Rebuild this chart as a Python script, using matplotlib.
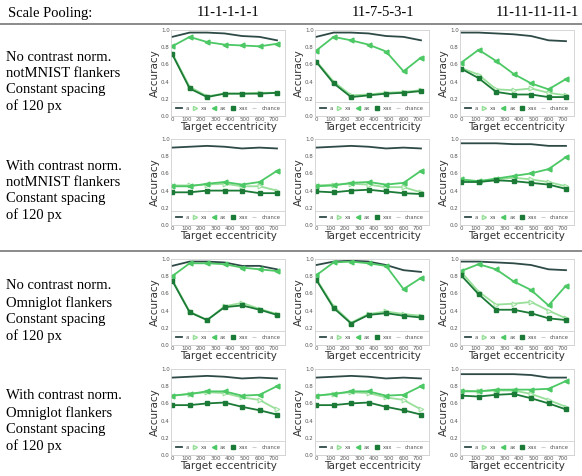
import numpy as np
import matplotlib
matplotlib.use('Agg')
import matplotlib.pyplot as plt
from matplotlib.lines import Line2D

W, H = 582, 476

ecc = [0, 120, 240, 360, 480, 600, 720]
chance = 0.1

col_labels = ['11-1-1-1-1', '11-7-5-3-1', '11-11-11-11-1']
row_labels = ['No contrast norm.\nnotMNIST flankers\nConstant spacing\nof 120 px',
              'With contrast norm.\nnotMNIST flankers\nConstant spacing\nof 120 px',
              'No contrast norm.\nOmniglot flankers\nConstant spacing\nof 120 px',
              'With contrast norm.\nOmniglot flankers\nConstant spacing\nof 120 px']

# one entry per panel, row by row
acc_a = [
    [0.92, 0.97, 0.97, 0.96, 0.93, 0.92, 0.88],
    [0.92, 0.97, 0.97, 0.96, 0.93, 0.92, 0.88],
    [0.97, 0.97, 0.96, 0.95, 0.93, 0.88, 0.87],
    [0.90, 0.91, 0.92, 0.91, 0.89, 0.90, 0.89],
    [0.90, 0.91, 0.92, 0.91, 0.89, 0.90, 0.89],
    [0.95, 0.95, 0.95, 0.94, 0.94, 0.92, 0.92],
    [0.92, 0.97, 0.97, 0.96, 0.92, 0.92, 0.88],
    [0.93, 0.97, 0.98, 0.97, 0.93, 0.87, 0.85],
    [0.97, 0.97, 0.96, 0.95, 0.93, 0.88, 0.87],
    [0.90, 0.91, 0.92, 0.91, 0.89, 0.90, 0.89],
    [0.90, 0.91, 0.92, 0.91, 0.89, 0.90, 0.89],
    [0.94, 0.94, 0.94, 0.94, 0.93, 0.90, 0.90],
]
acc_xa = [
    [0.73, 0.34, 0.23, 0.26, 0.26, 0.27, 0.27],
    [0.64, 0.40, 0.24, 0.25, 0.27, 0.28, 0.30],
    [0.56, 0.48, 0.31, 0.30, 0.32, 0.27, 0.24],
    [0.46, 0.46, 0.47, 0.48, 0.45, 0.45, 0.40],
    [0.46, 0.47, 0.48, 0.47, 0.44, 0.44, 0.38],
    [0.52, 0.50, 0.53, 0.55, 0.53, 0.50, 0.45],
    [0.76, 0.39, 0.29, 0.45, 0.49, 0.42, 0.36],
    [0.77, 0.45, 0.26, 0.36, 0.39, 0.36, 0.34],
    [0.85, 0.62, 0.47, 0.48, 0.50, 0.40, 0.31],
    [0.69, 0.71, 0.73, 0.72, 0.67, 0.64, 0.53],
    [0.69, 0.71, 0.73, 0.72, 0.67, 0.64, 0.53],
    [0.75, 0.74, 0.75, 0.75, 0.71, 0.64, 0.56],
]
acc_ax = [
    [0.81, 0.92, 0.86, 0.83, 0.82, 0.81, 0.84],
    [0.76, 0.92, 0.88, 0.83, 0.75, 0.52, 0.68],
    [0.62, 0.77, 0.64, 0.49, 0.38, 0.31, 0.43],
    [0.45, 0.45, 0.48, 0.50, 0.47, 0.50, 0.63],
    [0.45, 0.46, 0.49, 0.50, 0.47, 0.49, 0.63],
    [0.53, 0.51, 0.54, 0.57, 0.60, 0.65, 0.79],
    [0.80, 0.95, 0.95, 0.94, 0.90, 0.88, 0.86],
    [0.81, 0.96, 0.97, 0.95, 0.92, 0.65, 0.78],
    [0.86, 0.94, 0.88, 0.74, 0.64, 0.46, 0.69],
    [0.69, 0.71, 0.74, 0.74, 0.69, 0.70, 0.80],
    [0.69, 0.71, 0.74, 0.74, 0.69, 0.70, 0.80],
    [0.74, 0.74, 0.76, 0.76, 0.76, 0.77, 0.86],
]
acc_xax = [
    [0.72, 0.32, 0.22, 0.26, 0.26, 0.26, 0.27],
    [0.63, 0.38, 0.22, 0.24, 0.26, 0.27, 0.29],
    [0.55, 0.44, 0.28, 0.25, 0.25, 0.22, 0.22],
    [0.38, 0.38, 0.40, 0.40, 0.40, 0.37, 0.37],
    [0.39, 0.38, 0.40, 0.41, 0.39, 0.37, 0.36],
    [0.50, 0.50, 0.52, 0.51, 0.49, 0.47, 0.42],
    [0.75, 0.38, 0.29, 0.44, 0.46, 0.41, 0.35],
    [0.76, 0.43, 0.25, 0.35, 0.37, 0.34, 0.32],
    [0.81, 0.59, 0.41, 0.41, 0.37, 0.31, 0.29],
    [0.58, 0.58, 0.60, 0.61, 0.56, 0.52, 0.47],
    [0.58, 0.58, 0.60, 0.61, 0.56, 0.52, 0.47],
    [0.69, 0.68, 0.70, 0.71, 0.66, 0.60, 0.53],
]

c_a, c_xa, c_ax, c_xax = '#2e4a46', '#98df9a', '#4cc865', '#1b7a36'

def rect(left, top, w, h):
    return [left / W, 1 - (top + h) / H, w / W, h / H]

fig = plt.figure(figsize=(W / 100, H / 100), dpi=100)

col_left = [171, 315, 460]
head_x = [228, 383, 537]
row_top = [30, 139, 259, 369]
aw, ah = 114, 86

serif = ['Liberation Serif', 'DejaVu Serif']

# header
fig.text(8 / W, 1 - 13 / H, 'Scale Pooling:', family=serif, fontsize=10.5, va='center')
for j, lab in enumerate(col_labels):
    fig.text(head_x[j] / W, 1 - 13 / H, lab, family=serif, fontsize=10.5,
             va='center', ha='center')
for yl in [24, 251]:
    fig.add_artist(Line2D([0, 1], [1 - yl / H, 1 - yl / H], color='#8a8a8a', lw=1.4))

for i in range(4):
    fig.text(6 / W, 1 - (row_top[i] + 52) / H, row_labels[i], family=serif,
             fontsize=10.5, va='center', ha='left', linespacing=1.3)
    for j in range(3):
        k = i * 3 + j
        ax = fig.add_axes(rect(col_left[j], row_top[i], aw, ah))
        ax.axhline(chance, color='#cfcfcf', ls='--', lw=0.8)
        ax.plot(ecc, acc_a[k], color=c_a, lw=1.3)
        ax.plot(ecc, acc_xa[k], color=c_xa, lw=1.3, marker='>', ms=3.5,
                mfc='#eaf8ea', mec=c_xa, mew=0.7)
        ax.plot(ecc, acc_ax[k], color=c_ax, lw=1.3, marker='<', ms=3.5)
        ax.plot(ecc, acc_xax[k], color=c_xax, lw=1.3, marker='s', ms=3.5)
        ax.set_xlim(-8, 775)
        ax.set_ylim(0, 1)
        ax.set_xticks(range(0, 701, 100))
        ax.set_yticks(np.arange(0, 1.01, 0.2))
        ax.set_yticklabels(['%.1f' % v for v in np.arange(0, 1.01, 0.2)])
        ax.tick_params(labelsize=4, length=0, pad=1, colors='#555555')
        for s in ax.spines.values():
            s.set_color('#d0d0d0')
            s.set_linewidth(0.6)
        ax.set_ylabel('Accuracy', fontsize=7.5, labelpad=1, color='#333333')
        ax.set_xlabel('Target eccentricity', fontsize=7.5, labelpad=0, color='#333333')
        handles = [
            Line2D([], [], color=c_a, lw=1.3),
            Line2D([], [], color=c_xa, lw=0, marker='>', ms=3, mfc='#eaf8ea', mec=c_xa),
            Line2D([], [], color=c_ax, lw=0, marker='<', ms=3),
            Line2D([], [], color=c_xax, lw=0, marker='s', ms=3.5),
            Line2D([], [], color='#cfcfcf', ls='--', lw=0.8),
        ]
        leg = ax.legend(handles, ['a', 'xa', 'ax', 'xax', 'chance'], ncol=5,
                        mode='expand', loc='lower left', bbox_to_anchor=(0, 0.0, 1, 0.19),
                        fontsize=3.8, handlelength=1.2, handletextpad=0.6,
                        borderaxespad=0, frameon=True, fancybox=False,
                        framealpha=1, edgecolor='#d0d0d0', borderpad=0.9)
        leg.get_frame().set_linewidth(0.6)
        for t in leg.get_texts():
            t.set_color('#555555')

fig.savefig('out.png', dpi=100)
